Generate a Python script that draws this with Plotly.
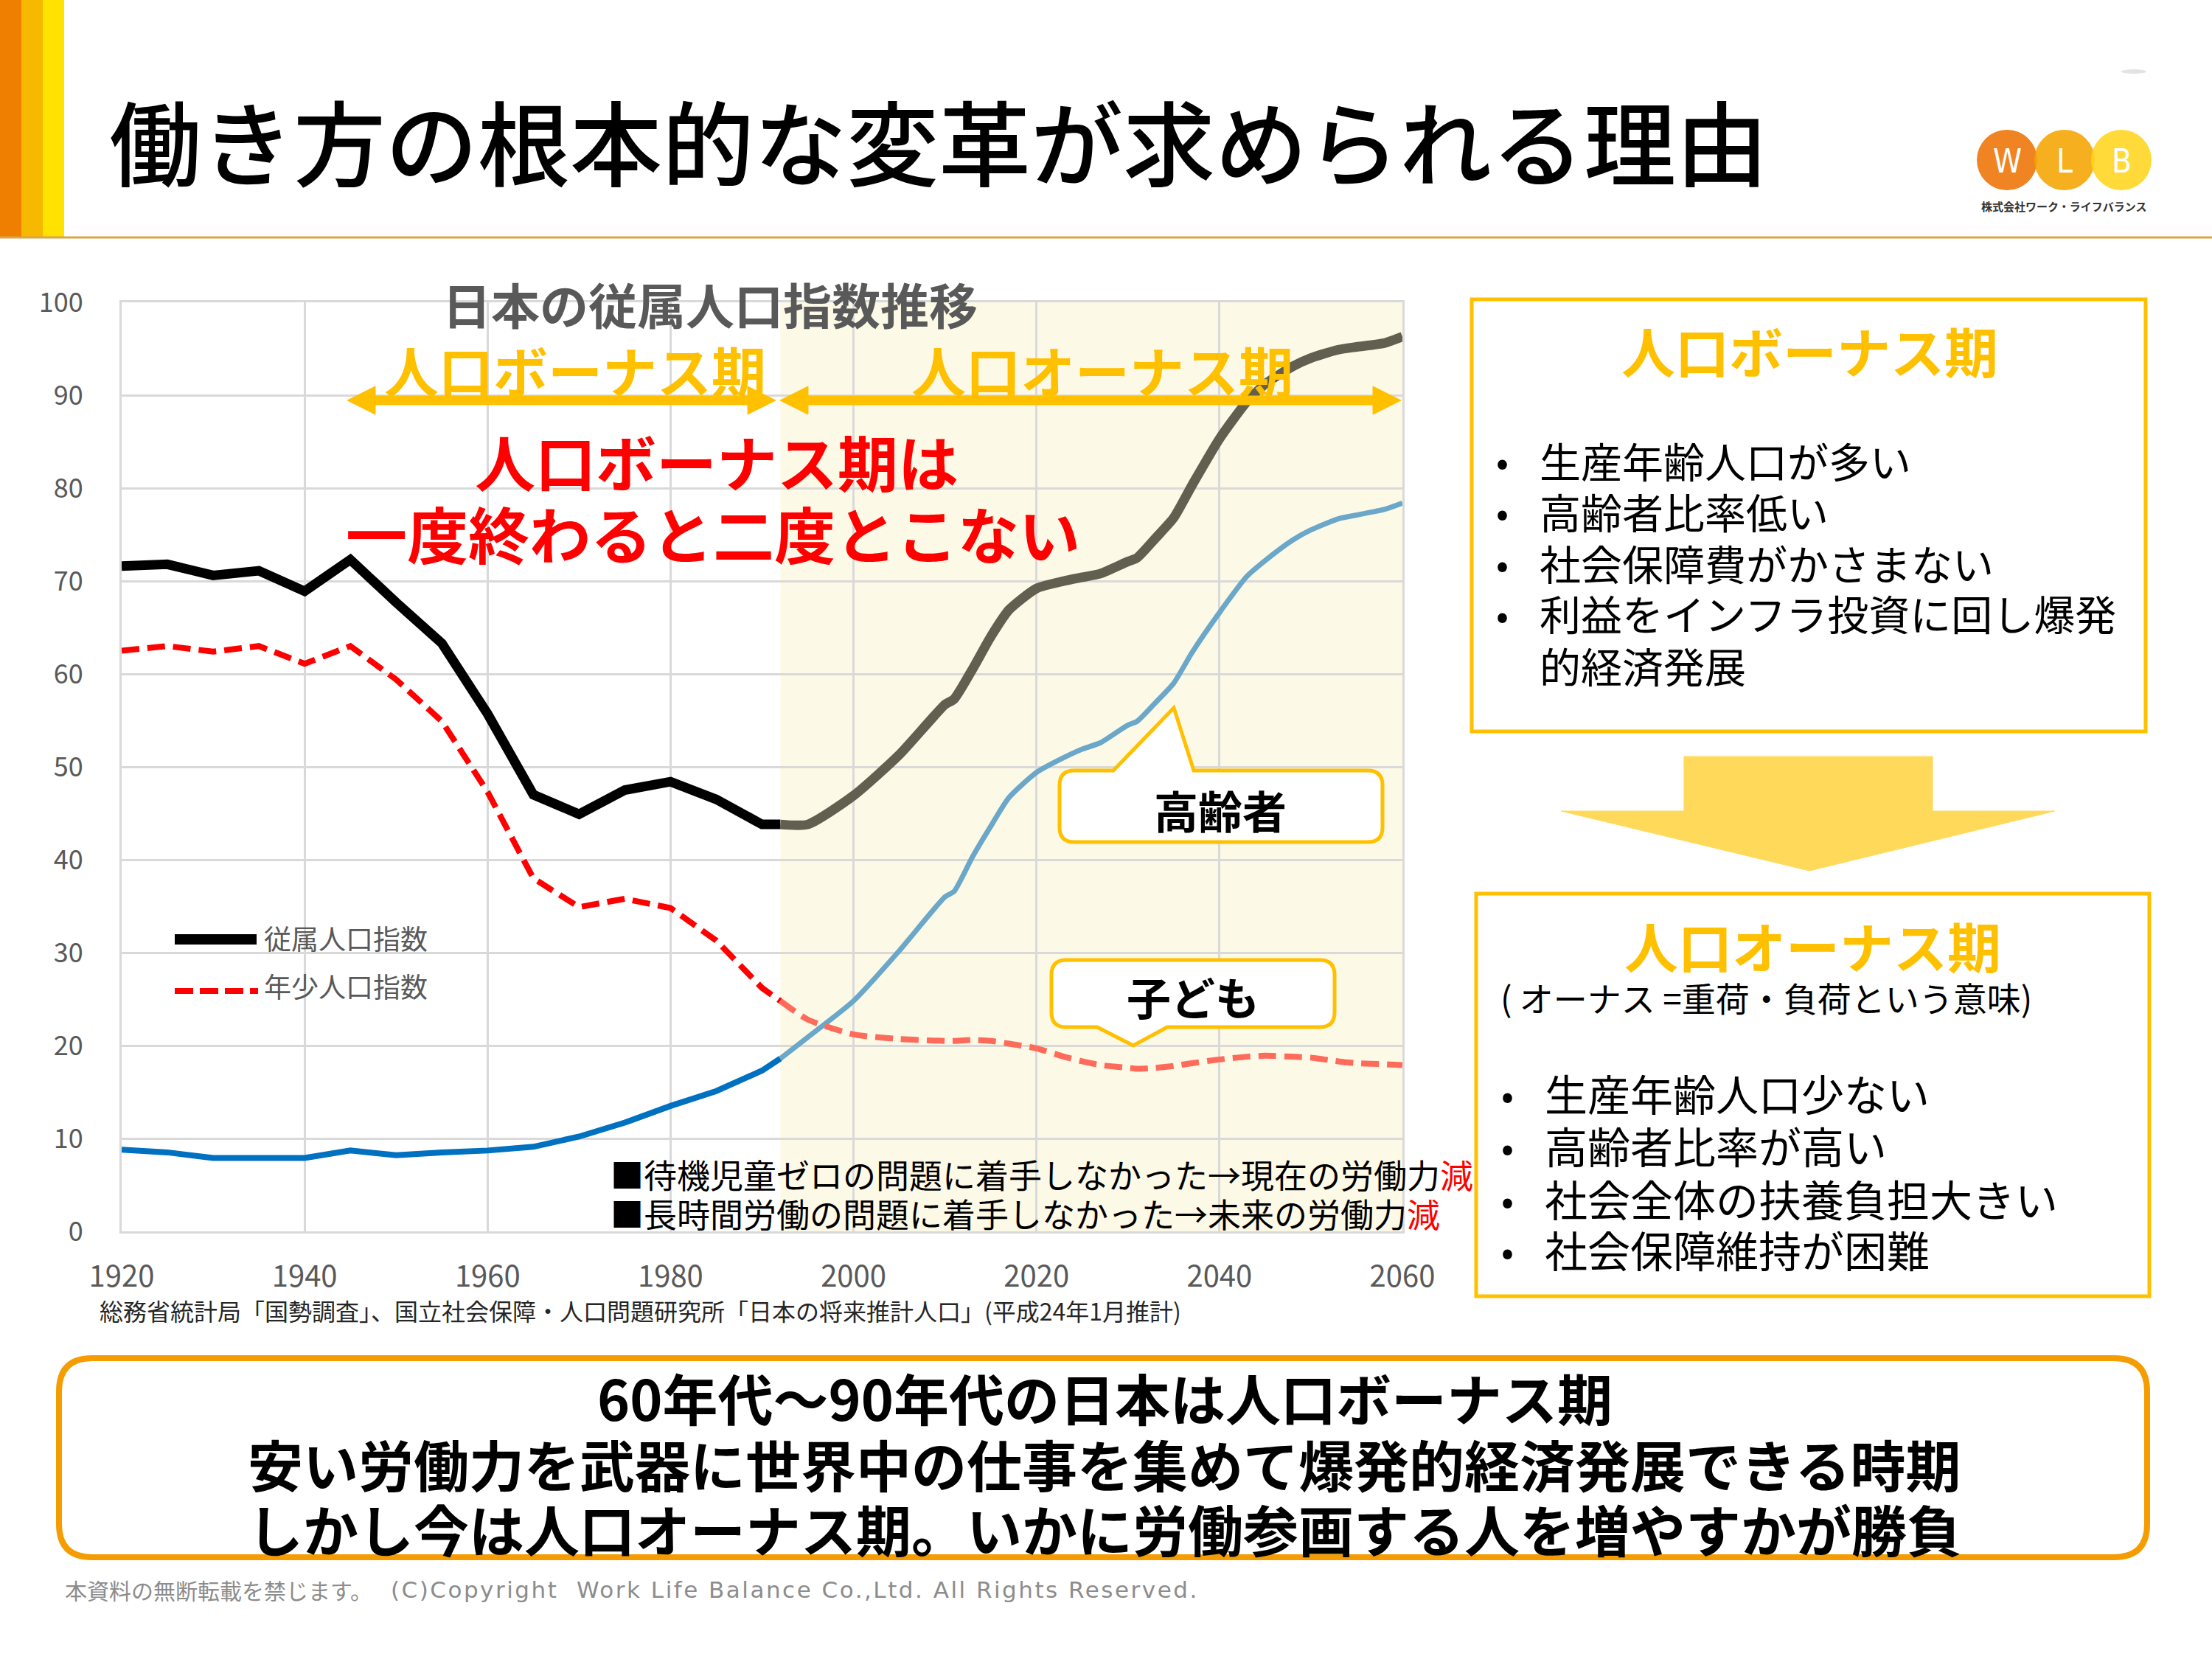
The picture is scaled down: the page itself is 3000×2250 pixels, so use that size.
import plotly.graph_objects as go

# ---------------- data ----------------
years_actual = [1920, 1925, 1930, 1935, 1940, 1945, 1950, 1955, 1960, 1965, 1970, 1975, 1980, 1985, 1990, 1992]
total_actual = [71.6, 71.8, 70.6, 71.1, 68.9, 72.3, 67.7, 63.3, 55.7, 47.0, 44.9, 47.5, 48.4, 46.5, 43.8, 43.8]
young_actual = [62.5, 63.0, 62.4, 63.0, 61.1, 63.0, 59.4, 54.9, 47.3, 38.0, 34.9, 35.8, 34.8, 31.3, 26.2, 24.8]
old_actual = [8.8, 8.5, 7.9, 7.9, 7.9, 8.7, 8.2, 8.5, 8.7, 9.1, 10.2, 11.7, 13.5, 15.1, 17.3, 18.6]

years_proj = [1992, 1995, 2000, 2005, 2010, 2011, 2013, 2015, 2017, 2020, 2023, 2025, 2027, 2030, 2031,
              2033, 2035, 2037, 2040, 2043, 2045, 2048, 2050, 2053, 2055, 2058, 2060]
total_proj = [43.8, 43.8, 46.9, 51.3, 56.7, 57.3, 60.5, 64.0, 66.9, 69.2, 70.0, 70.4, 70.8, 72.1, 72.5,
              74.6, 76.8, 80.3, 85.3, 89.3, 91.2, 93.1, 94.0, 94.9, 95.2, 95.6, 96.3]
young_proj = [24.8, 22.8, 21.2, 20.7, 20.5, 20.5, 20.6, 20.5, 20.2, 19.7, 18.8, 18.3, 17.9, 17.6, 17.5,
              17.6, 17.8, 18.1, 18.5, 18.8, 18.9, 18.8, 18.7, 18.3, 18.1, 18.0, 17.9]
old_proj = [18.6, 20.9, 24.8, 30.2, 36.0, 36.6, 40.3, 43.6, 46.7, 49.4, 51.0, 51.9, 52.6, 54.5, 54.9,
            56.9, 59.0, 62.3, 66.6, 70.5, 72.2, 74.4, 75.5, 76.7, 77.1, 77.7, 78.4]

x_ticks = [1920, 1940, 1960, 1980, 2000, 2020, 2040, 2060]
y_ticks = [0, 10, 20, 30, 40, 50, 60, 70, 80, 90, 100]
onus_start = 1992

title_text = "働き方の根本的な変革が求められる理由"
chart_title = "日本の従属人口指数推移"
legend_labels = ["従属人口指数", "年少人口指数"]
bonus_points = ["生産年齢人口が多い", "高齢者比率低い", "社会保障費がかさまない", "利益をインフラ投資に回し爆発", "的経済発展"]
onus_points = ["生産年齢人口少ない", "高齢者比率が高い", "社会全体の扶養負担大きい", "社会保障維持が困難"]
bottom_lines = ["60年代～90年代の日本は人口ボーナス期",
                "安い労働力を武器に世界中の仕事を集めて爆発的経済発展できる時期",
                "しかし今は人口オーナス期。いかに労働参画する人を増やすかが勝負"]

# ---------------- helpers ----------------
W, H = 3000, 2250
FONT = "Noto Sans CJK JP"


def X(p):
    return p / W


def Y(p):
    return 1 - p / H


def pt(x, y):
    return f"{X(x):.5f},{Y(y):.5f}"


def rounded_rect(x0, y0, x1, y1, r, top_ptr=None, bottom_ptr=None):
    s = f"M {pt(x0 + r, y0)} "
    if top_ptr:
        a, tx, ty, b = top_ptr
        s += f"L {pt(a, y0)} L {pt(tx, ty)} L {pt(b, y0)} "
    s += f"L {pt(x1 - r, y0)} Q {pt(x1, y0)} {pt(x1, y0 + r)} "
    s += f"L {pt(x1, y1 - r)} Q {pt(x1, y1)} {pt(x1 - r, y1)} "
    if bottom_ptr:
        a, tx, ty, b = bottom_ptr
        s += f"L {pt(b, y1)} L {pt(tx, ty)} L {pt(a, y1)} "
    s += f"L {pt(x0 + r, y1)} Q {pt(x0, y1)} {pt(x0, y1 - r)} "
    s += f"L {pt(x0, y0 + r)} Q {pt(x0, y0)} {pt(x0 + r, y0)} Z"
    return s


shapes = []
annos = []


def text(x, y, t, size, color="#000000", anchor="left", weight="normal", family=FONT):
    annos.append(dict(x=X(x), y=Y(y), xref="paper", yref="paper", text=t, showarrow=False,
                      xanchor=anchor, yanchor="middle",
                      font=dict(family=family, size=size, color=color, weight=weight)))


def rect(x0, y0, x1, y1, fill, line=None, lw=0, layer="above"):
    shapes.append(dict(type="rect", xref="paper", yref="paper", x0=X(x0), y0=Y(y0), x1=X(x1), y1=Y(y1),
                       fillcolor=fill, line=dict(color=line or fill, width=lw), layer=layer))


def path(p, fill, line, lw):
    shapes.append(dict(type="path", xref="paper", yref="paper", path=p, fillcolor=fill,
                       line=dict(color=line, width=lw), layer="above"))


# ---------------- figure & traces ----------------
fig = go.Figure()
fig.add_trace(go.Scatter(x=years_actual, y=old_actual, mode="lines", line=dict(color="#0070C0", width=8)))
fig.add_trace(go.Scatter(x=years_proj, y=old_proj, mode="lines",
                         line=dict(color="#6AA7C9", width=7, shape="spline", smoothing=0.6)))
fig.add_trace(go.Scatter(x=years_actual, y=young_actual, mode="lines",
                         line=dict(color="#FF0000", width=8, dash="24px,11px")))
fig.add_trace(go.Scatter(x=years_proj, y=young_proj, mode="lines",
                         line=dict(color="#FF6B5B", width=8, dash="24px,11px", shape="spline", smoothing=0.6)))
fig.add_trace(go.Scatter(x=years_actual, y=total_actual, mode="lines", line=dict(color="#000000", width=13)))
fig.add_trace(go.Scatter(x=years_proj, y=total_proj, mode="lines",
                         line=dict(color="#615F4F", width=13, shape="spline", smoothing=0.6)))

# onus-period shading
shapes.append(dict(type="rect", xref="x", yref="y", x0=onus_start, x1=x_ticks[-1], y0=y_ticks[0], y1=y_ticks[-1],
                   fillcolor="#FDF9E7", line=dict(width=0), layer="below"))

# ---------------- header ----------------
rect(0, 0, 29, 322, "#EE7F00")
rect(29, 0, 58, 322, "#F7B900")
rect(58, 0, 87, 322, "#FFE200")
shapes.append(dict(type="line", xref="paper", yref="paper", x0=0, x1=1, y0=Y(322), y1=Y(322),
                   line=dict(color="#D9A64A", width=3)))
text(146, 188, title_text, 125, "#000000", "left", 500)

# logo
for cx, col in [(2722, "#EE7203"), (2800, "#F5A400"), (2877, "#FFD51E")]:
    shapes.append(dict(type="circle", xref="paper", yref="paper", x0=X(cx - 41), x1=X(cx + 41),
                       y0=Y(217 + 41), y1=Y(217 - 41), fillcolor=col, opacity=0.88, line=dict(width=0)))
for cx, letter in [(2722, "W"), (2800, "L"), (2877, "B")]:
    text(cx, 218, letter, 44, "#FFFFFF", "center", "normal", "DejaVu Sans Condensed")
text(2799, 279, "株式会社ワーク・ライフバランス", 15, "#333333", "center", "bold")
shapes.append(dict(type="circle", xref="paper", yref="paper", x0=X(2877), x1=X(2911), y0=Y(100), y1=Y(94),
                   fillcolor="#E3E3E3", line=dict(width=0)))

# ---------------- chart annotations ----------------
text(598, 411, chart_title, 66, "#595959", "left", "bold")

# double arrows
ay = 543
for xa, xb in [(471, 1052), (1058, 1900)]:
    shapes.append(dict(type="line", xref="paper", yref="paper", x0=X(xa + 30), x1=X(xb - 30), y0=Y(ay), y1=Y(ay),
                       line=dict(color="#FFC000", width=13)))
    path(f"M {pt(xa, ay)} L {pt(xa + 38, ay - 19)} L {pt(xa + 38, ay + 19)} Z", "#FFC000", "#FFC000", 1)
    path(f"M {pt(xb, ay)} L {pt(xb - 38, ay - 19)} L {pt(xb - 38, ay + 19)} Z", "#FFC000", "#FFC000", 1)
text(780, 500, "人口ボーナス期", 74, "#FFC000", "center", "bold")
text(1495, 500, "人口オーナス期", 74, "#FFC000", "center", "bold")

text(972, 624, "人口ボーナス期は", 82, "#FF0000", "center", "bold")
text(967, 722, "一度終わると二度とこない", 83, "#FF0000", "center", "bold")

# legend (drawn manually)
shapes.append(dict(type="line", xref="paper", yref="paper", x0=X(237), x1=X(348), y0=Y(1274), y1=Y(1274),
                   line=dict(color="#000000", width=14)))
shapes.append(dict(type="line", xref="paper", yref="paper", x0=X(237), x1=X(350), y0=Y(1344), y1=Y(1344),
                   line=dict(color="#FF0000", width=8, dash="25px,9px")))
text(356, 1272, legend_labels[0], 37, "#595959", "left")
text(356, 1337, legend_labels[1], 37, "#595959", "left")

# callouts
path(rounded_rect(1437, 1045, 1875, 1142, 20, top_ptr=(1510, 1592, 960, 1619)), "#FFFFFF", "#FFC000", 5)
text(1655, 1097, "高齢者", 60, "#000000", "center", "bold")
path(rounded_rect(1426, 1302, 1810, 1393, 20, bottom_ptr=(1488, 1537, 1418, 1583)), "#FFFFFF", "#FFC000", 5)
text(1618, 1350, "子ども", 60, "#000000", "center", "bold")

# notes
text(826, 1592, "■待機児童ゼロの問題に着手しなかった→現在の労働力<span style='color:#FF0000'>減</span>", 45)
text(826, 1645, "■長時間労働の問題に着手しなかった→未来の労働力<span style='color:#FF0000'>減</span>", 45)

text(133, 1777, "総務省統計局「国勢調査」、国立社会保障・人口問題研究所「日本の将来推計人口」(平成24年1月推計)", 32, "#262626")

# ---------------- right boxes ----------------
rect(1996, 406, 2910, 992, "rgba(0,0,0,0)", "#FFC000", 5)
text(2454, 474, "人口ボーナス期", 73, "#FFC000", "center", "bold")
for i, (yy, t) in enumerate(zip([623, 692, 762, 831, 902], bonus_points)):
    if i < 4:
        text(2037, yy, "•", 50, "#000000", "center")
    text(2086, yy, t, 56)

path(f"M {pt(2284, 1026)} L {pt(2621, 1026)} L {pt(2621, 1100)} L {pt(2787, 1100)} L {pt(2454, 1181)} "
     f"L {pt(2117, 1100)} L {pt(2284, 1100)} Z", "#FFD95A", "#FFD95A", 1)

rect(2002, 1212, 2915, 1758, "rgba(0,0,0,0)", "#FFC000", 5)
text(2458, 1281, "人口オーナス期", 73, "#FFC000", "center", "bold")
text(2033, 1352, "( オーナス =重荷・負荷という意味)", 46, "#000000", "left")
for yy, t in zip([1482, 1553, 1625, 1694], onus_points):
    text(2044, yy, "•", 50, "#000000", "center")
    text(2093, yy, t, 58)

# ---------------- bottom box ----------------
path(rounded_rect(80, 1842, 2912, 2112, 45), "#FFFFFF", "#F59C00", 8)
for yy, t in zip([1894, 1984, 2072], bottom_lines):
    text(1498, yy, t, 75, "#000000", "center", "bold")

text(86, 2156, "本資料の無断転載を禁じます。", 30, "#8C8C8C")
text(528, 2156, "<span style='letter-spacing:2.5px'>(C)Copyright  Work Life Balance Co.,Ltd. All Rights Reserved.</span>",
     31, "#8C8C8C", "left", "normal", "DejaVu Sans")

# ---------------- layout ----------------
fig.update_layout(
    width=W, height=H, margin=dict(l=0, r=0, t=0, b=0, autoexpand=False),
    paper_bgcolor="#FFFFFF", plot_bgcolor="rgba(0,0,0,0)",
    showlegend=False, hovermode=False,
    font=dict(family=FONT),
    shapes=shapes, annotations=annos,
    xaxis=dict(domain=[X(165), X(1902)], range=[x_ticks[0], x_ticks[-1]], tickvals=x_ticks,
               automargin=False,
               showgrid=True, gridcolor="#D9D9D9", gridwidth=3, zeroline=False,
               showline=True, linecolor="#D9D9D9", linewidth=3, mirror=True,
               ticks="", ticklabelstandoff=24, tickfont=dict(size=40, color="#595959", family=FONT)),
    yaxis=dict(domain=[Y(1670), Y(410)], range=[y_ticks[0], y_ticks[-1]], tickvals=y_ticks,
               automargin=False,
               showgrid=True, gridcolor="#D9D9D9", gridwidth=3, zeroline=False,
               showline=True, linecolor="#D9D9D9", linewidth=3, mirror=True,
               ticks="", ticklabelstandoff=42, tickfont=dict(size=36, color="#595959", family=FONT)),
)

fig.write_html("out.html", config={"displayModeBar": False},
               post_script="document.body.style.margin='0px';")
